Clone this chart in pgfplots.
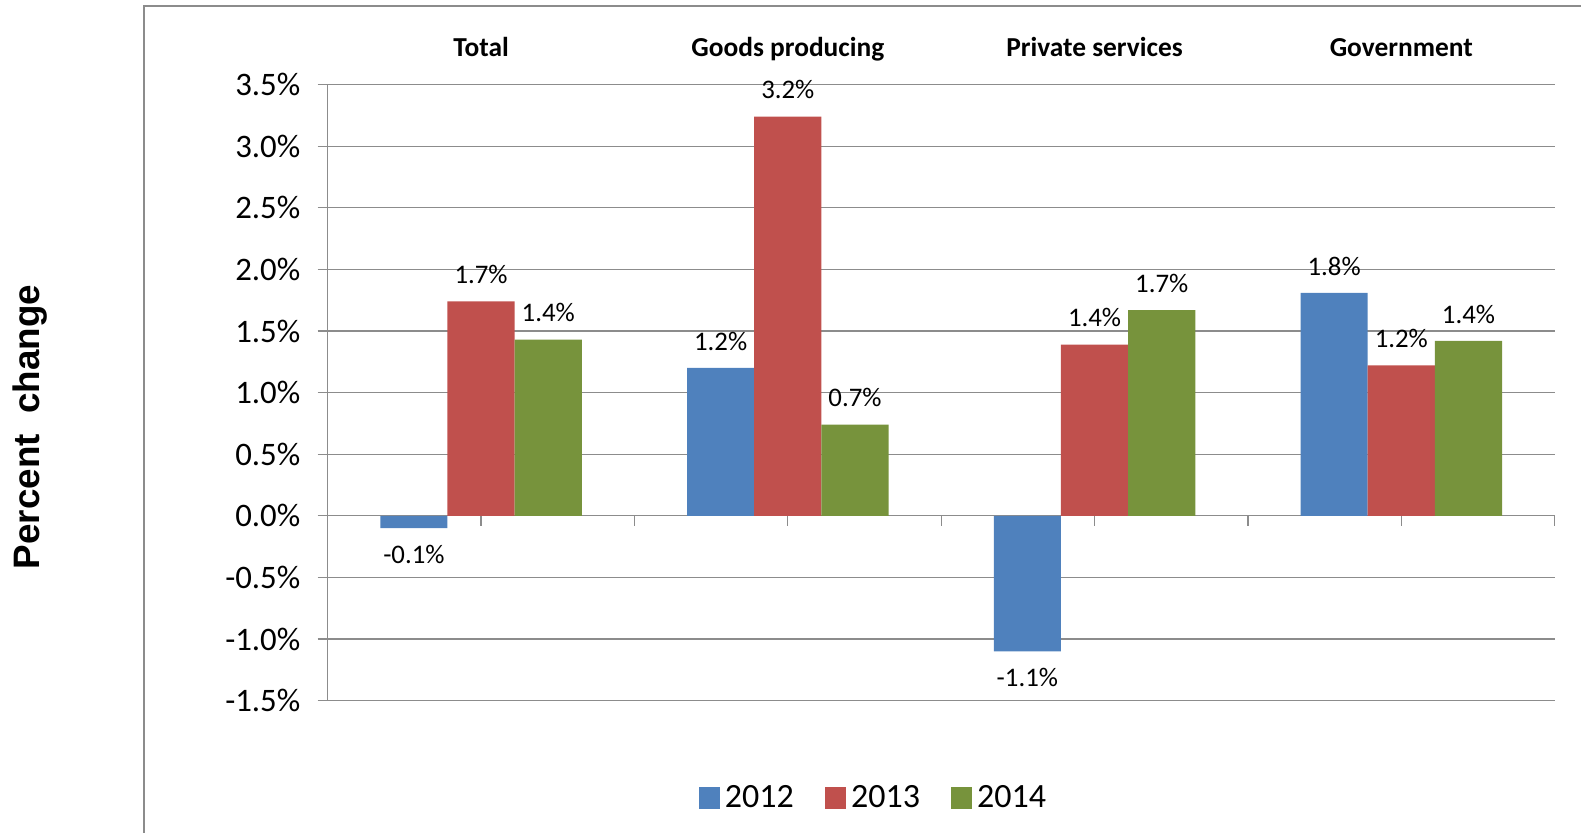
\documentclass[border=0pt]{standalone}
\usepackage{pgfplots}
\pgfplotsset{compat=1.18}
\usepackage{fontspec}
\setmainfont{Carlito}
\newfontfamily\arialfont{Liberation Sans}
\definecolor{c12}{HTML}{4F81BD}
\definecolor{c13}{HTML}{C0504D}
\definecolor{c14}{HTML}{77933C}
\definecolor{gridc}{HTML}{8C8C8C}
\begin{document}
\begin{tikzpicture}
\useasboundingbox (0,0) rectangle (790.5pt,416.5pt);
\draw[gridc, line width=0.7pt] (72pt,0) -- (72pt,413.5pt) -- (790.5pt,413.5pt);
\node[rotate=90, font=\arialfont\bfseries\fontsize{18.4}{22}\selectfont] at (15.1pt,203pt) {Percent\ \ change};
\begin{axis}[
  at={(163.85pt,66.2pt)}, anchor=south west,
  scale only axis, width=613.5pt, height=308pt,
  xmin=-0.5, xmax=3.5, ymin=-1.5, ymax=3.5,
  clip=false,
  ybar, bar width=0.219,
  axis x line=middle, axis y line=left,
  axis line style={-, gridc, line width=0.6pt},
  xtick={0,0.5,...,3.5}, xticklabels={},
  ytick={-1.5,-1,...,3.5},
  major tick length=5pt,
  xtick align=outside, ytick align=outside,
  tick style={gridc, line width=0.6pt},
  ymajorgrids, grid style={gridc, line width=0.6pt},
  /pgf/number format/assume math mode=true,
  yticklabel={\pgfmathprintnumber[fixed,fixed zerofill,precision=1]{\tick}\%},
  yticklabel style={font=\fontsize{16.4}{19}\selectfont, anchor=east, inner xsep=0pt, xshift=-8.5pt},
  point meta=y,
  nodes near coords={\pgfmathprintnumber[fixed,fixed zerofill,precision=1]{\pgfplotspointmeta}\%},
  nodes near coords align=vertical,
  nodes near coords style={font=\fontsize{13.4}{16}\selectfont, inner ysep=8.5pt, text=black},
  legend columns=3,
  legend style={draw=none, fill=none, at={(0.446,-0.158)}, anchor=center,
    font=\fontsize{17}{20}\selectfont,
    /tikz/every even column/.append style={column sep=13pt},
    nodes={inner xsep=2.5pt}},
  legend image code/.code={\fill[#1] (0pt,-5.3pt) rectangle (10.6pt,5.3pt);},
]
\addplot[bar shift=-0.219, fill=c12, draw=none] coordinates {
  (0,-0.10) (1,1.20) (2,-1.10) (3,1.81)};
\addplot[bar shift=0, fill=c13, draw=none] coordinates {
  (0,1.74) (1,3.24) (2,1.39) (3,1.22)};
\addplot[bar shift=0.219, fill=c14, draw=none] coordinates {
  (0,1.43) (1,0.74) (2,1.67) (3,1.42)};
\legend{2012,2013,2014}
\node[font=\bfseries\fontsize{13.7}{16}\selectfont, anchor=base, yshift=13.85pt] at (axis cs:0,3.5) {Total};
\node[font=\bfseries\fontsize{13.7}{16}\selectfont, anchor=base, yshift=13.85pt] at (axis cs:1,3.5) {Goods producing};
\node[font=\bfseries\fontsize{13.7}{16}\selectfont, anchor=base, yshift=13.85pt] at (axis cs:2,3.5) {Private services};
\node[font=\bfseries\fontsize{13.7}{16}\selectfont, anchor=base, yshift=13.85pt] at (axis cs:3,3.5) {Government};
\end{axis}
\end{tikzpicture}
\end{document}
